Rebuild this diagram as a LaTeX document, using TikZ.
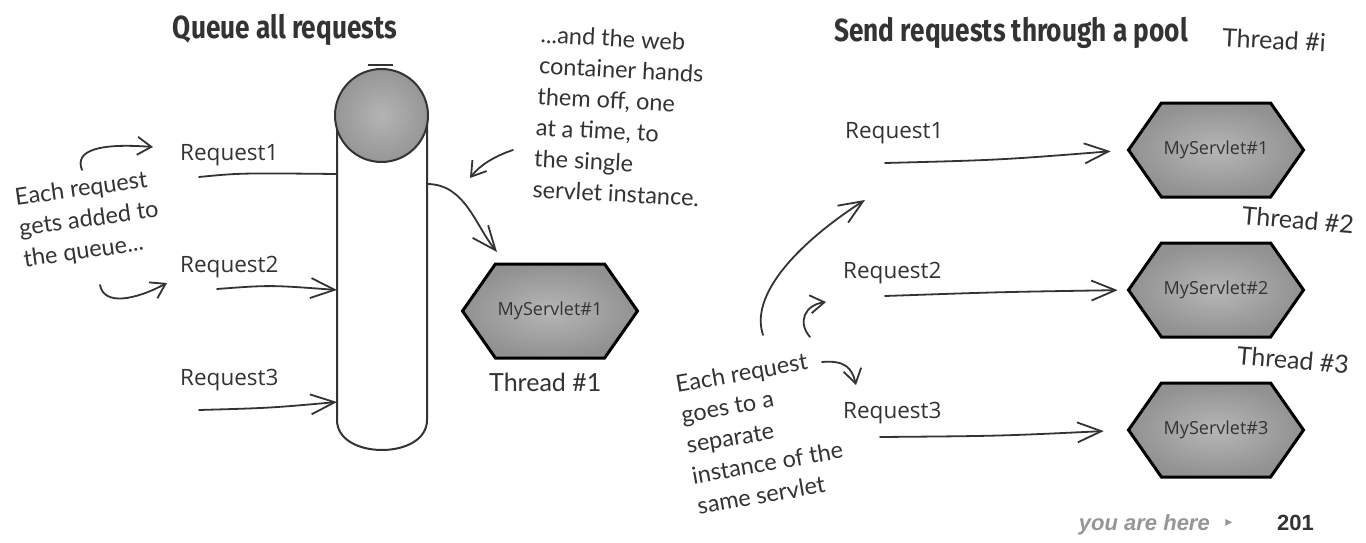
\documentclass[tikz,border=0pt]{standalone}
\usepackage{fontspec}
\setmainfont{Open Sans}
\newfontfamily\titlefont{Fira Sans}
\newfontfamily\handfont{Lato}
\newfontfamily\footfont{Liberation Sans}
\newfontfamily\symfont{DejaVu Sans}
\usetikzlibrary{arrows.meta,shapes.symbols}
\definecolor{ink}{RGB}{51,51,51}
\definecolor{hexin}{RGB}{182,182,182}
\definecolor{hexout}{RGB}{145,145,145}
\definecolor{ballin}{RGB}{180,180,180}
\definecolor{ballout}{RGB}{150,150,150}
\definecolor{footgray}{RGB}{150,150,150}
\begin{document}
\begin{tikzpicture}[x=1pt,y=-1pt,
  ttl/.style={font=\titlefont\bfseries\fontsize{32}{34}\selectfont, text=ink, inner sep=0},
  req/.style={font=\fontsize{22.5}{26}\selectfont, text=ink, inner sep=0, anchor=base west},
  hand/.style={font=\handfont\fontsize{23.5}{31}\selectfont, text=ink, inner sep=0, align=left},
  thr/.style={font=\handfont\fontsize{25}{27}\selectfont, text=ink, inner sep=0},
  servlet/.style={signal, signal to=west and east, signal pointer angle=110, draw=black,
    line width=3pt, inner color=hexin, outer color=hexout, minimum width=175pt,
    minimum height=94pt, inner sep=0, font=\fontsize{18}{20}\selectfont, text=black!80},
  conn/.style={draw=ink, line width=1.8pt, line cap=round},
  arr/.style={conn, -{Straight Barb[length=24pt,width=20pt]}},
  sarr/.style={conn, -{Straight Barb[length=14pt,width=18pt]}},
]
\useasboundingbox (0,0) rectangle (1366,543);
\fill[white] (0,0) rectangle (1366,543);

% titles
\node[ttl] (t1) at (285,30) {\scalebox{0.82}[1]{Queue all requests}};
\node[ttl] (t2) at (1011,33) {\scalebox{0.82}[1]{Send requests through a pool}};

% queue tube
\draw[ink, line width=1.2pt] (368,65) -- (393,65);
\draw[ink, line width=2pt, fill=white] (337,113) -- (337,420)
  .. controls (337,460) and (427,460) .. (427,420) -- (427,113);
\node[circle, draw=ink, line width=2pt, inner color=ballin, outer color=ballout,
  minimum size=93pt, inner sep=0] (ball) at (381.5,115.5) {};

% left requests
\node[req] (lr1) at (180,160) {Request1};
\node[req] (lr2) at (180,272) {Request2};
\node[req] (lr3) at (180,385) {Request3};
\coordinate (lr1s) at (199,177); \coordinate (tin1) at (337,174);
\coordinate (lr2s) at (217,289); \coordinate (tin2) at (337,290);
\coordinate (lr3s) at (199,410); \coordinate (tin3) at (337,402);
\coordinate (tout) at (427,184);
\coordinate (hin) at (497,252);
\draw[conn] (lr1s) .. controls (240,173) .. (tin1);
\draw[arr] (lr2s) .. controls (270,285) .. (tin2);
\draw[arr] (lr3s) .. controls (270,408) .. (tin3);
\draw[arr] (tout) .. controls (465,184) and (475,225) .. (hin);

% single servlet
\node[servlet] (s0) at (550,311) {MyServlet\#1};
\node[thr, anchor=base west] (th0) at (489,391) {Thread \#1};

% annotation top
\node[hand, rotate=-3] (n1) at (620,116) {...and the web\\container hands\\them off, one\\at a time, to\\the single\\servlet instance.};
\coordinate (n1a) at (513,150); \coordinate (n1b) at (470,178);
\draw[sarr] (n1a) .. controls (495,156) and (480,165) .. (n1b);

% annotation left
\node[hand, rotate=8] (n2) at (89,220) {Each request\\gets added to\\the queue...};
\coordinate (c1s) at (82,170); \coordinate (c1e) at (153,147);
\draw[sarr] (c1s) .. controls (74,150) and (100,143) .. (c1e);
\coordinate (c2s) at (100,285); \coordinate (c2e) at (167,283);
\draw[sarr] (c2s) .. controls (104,306) and (135,300) .. (c2e);

% pool
\node[req] (rr1) at (845,138) {Request1};
\node[req] (rr2) at (843,278) {Request2};
\node[req] (rr3) at (843,418) {Request3};
\node[servlet] (s1) at (1216,150) {MyServlet\#1};
\node[servlet] (s2) at (1216,290) {MyServlet\#2};
\node[servlet] (s3) at (1216,430) {MyServlet\#3};
\node[thr, rotate=-3] (th1) at (1274,40) {Thread \#i};
\node[thr, rotate=-5] (th2) at (1298,220) {Thread \#2};
\node[thr, rotate=-5] (th3) at (1293,360) {Thread \#3};
\coordinate (rr1s) at (885,163);
\coordinate (rr2s) at (885,296);
\coordinate (rr3s) at (880,437);
\draw[arr, shorten >=16pt] (rr1s) .. controls (1000,160) .. (s1.west);
\draw[arr, shorten >=9pt] (rr2s) .. controls (1000,292) .. (s2.west);
\draw[arr, shorten >=23pt] (rr3s) .. controls (1000,436) .. (s3.west);

% annotation right
\node[hand, rotate=10] (n3) at (762,432) {Each request\\goes to a\\separate\\instance of the\\same servlet};
\coordinate (a1s) at (763,335); \coordinate (a1e) at (865,200);
\draw[arr] (a1s) .. controls (748,290) and (810,235) .. (a1e);
\coordinate (a2s) at (810,337); \coordinate (a2e) at (826,302);
\draw[sarr] (a2s) .. controls (797,322) and (805,305) .. (a2e);
\coordinate (a3s) at (822,362); \coordinate (a3e) at (856,385);
\draw[sarr] (a3s) .. controls (845,360) and (852,368) .. (a3e);

% footer
\node[font=\footfont\bfseries\itshape\fontsize{22}{24}\selectfont, text=footgray,
  anchor=base east, inner sep=0] (yah) at (1210,530) {you are here};
\node[font=\symfont\fontsize{14}{16}\selectfont, text=footgray, inner sep=0] (tri) at (1229,523) {▸};
\node[font=\footfont\bfseries\fontsize{22}{24}\selectfont, text=ink, anchor=base west,
  inner sep=0] (pg) at (1277,530) {201};
\end{tikzpicture}
\end{document}
